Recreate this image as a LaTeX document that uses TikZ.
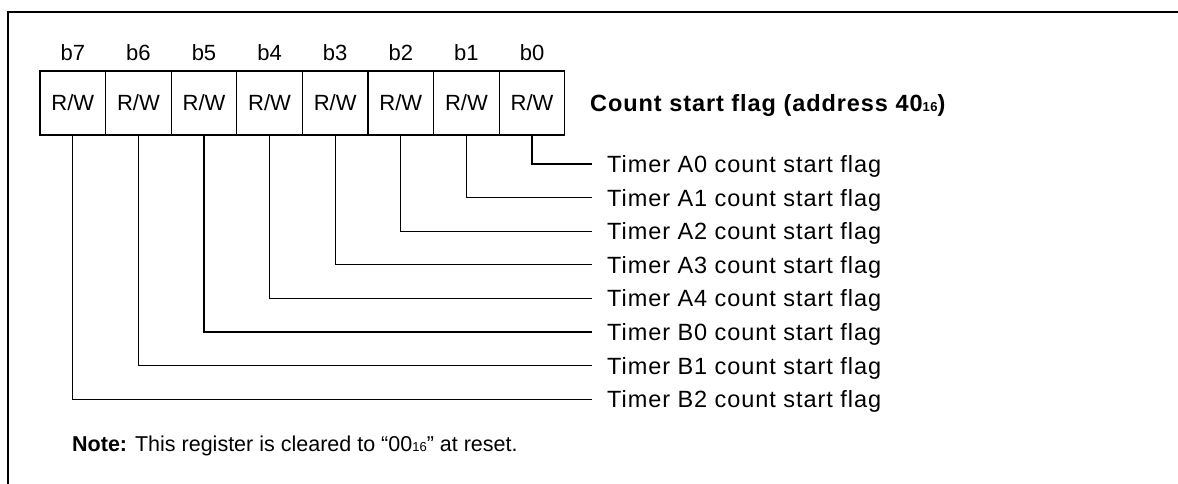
\documentclass[tikz,border=0pt]{standalone}
\usepackage{fontspec}
\setmainfont{Liberation Sans}
\newfontfamily\trk[LetterSpace=4]{Liberation Sans}
\newcommand{\subsc}[1]{{\fontsize{13}{13}\selectfont #1}}
\begin{document}
\begin{tikzpicture}[x=1pt,y=-1pt,
  frame/.style={line width=1.8pt},
  conn/.style={line width=1.3pt},
  regbox/.style={draw, line width=1.3pt, minimum width=65.6pt, minimum height=64pt, inner sep=0pt,
                 font=\fontsize{22}{22}\selectfont},
  bitlbl/.style={inner sep=0pt, font=\fontsize{22}{22}\selectfont},
  flaglbl/.style={anchor=base west, inner sep=0pt, font=\trk\fontsize{23.5}{23.5}\selectfont},
  titlelbl/.style={anchor=base west, inner sep=0pt, font=\trk\bfseries\fontsize{23.5}{23.5}\selectfont},
  notelbl/.style={anchor=base west, inner sep=0pt, font=\fontsize{21.5}{21.5}\selectfont},
]
\useasboundingbox (0,0) rectangle (1178,484);
% frame (cut off on right and bottom)
\coordinate (fa) at (1178,12);
\coordinate (fb) at (8,12);
\coordinate (fc) at (8,484);
\draw[frame] (fa) -- (fb) -- (fc);

% register boxes and bit labels
\foreach \i/\b in {0/7,1/6,2/5,3/4,4/3,5/2,6/1,7/0} {
  \node[regbox] (r\b) at ({72.8+65.6*\i},103) {R/W};
  \node[bitlbl] (l\b) at ({72.8+65.6*\i},53) {b\b};
}

% title
\node[titlelbl] (title) at (590,111.4) {Count start flag (address 40\subsc{16})};

% flag labels
\foreach \b/\t [count=\k from 0] in {0/A0,1/A1,2/A2,3/A3,4/A4,5/B0,6/B1,7/B2} {
  \node[flaglbl] (t\b) at (607,{164+33.6*\k+8.4}) {Timer \t\ count start flag};
  \coordinate (e\b) at (592,{164+33.6*\k});
  \draw[conn] (r\b.south) |- (e\b);
}

% note
\node[notelbl] (note) at (72,451)
  {\textbf{Note:} This register is cleared to “00\subsc{16}” at reset.};
\end{tikzpicture}
\end{document}
